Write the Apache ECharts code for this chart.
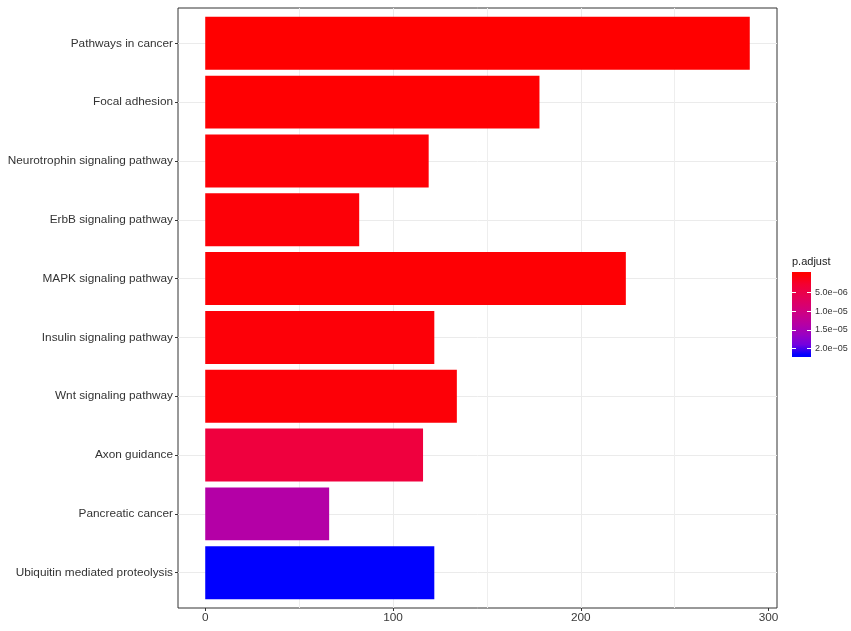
<!DOCTYPE html>
<html>
<head>
<meta charset="utf-8">
<script src="https://cdn.jsdelivr.net/npm/echarts@6/dist/echarts.min.js"></script>
<style>
html,body{margin:0;padding:0;background:#fff;}
#chart{width:851px;height:631px;}
</style>
</head>
<body>
<div id="chart"></div>
<script>
// ---- data ----
const categories = [
  'Pathways in cancer',
  'Focal adhesion',
  'Neurotrophin signaling pathway',
  'ErbB signaling pathway',
  'MAPK signaling pathway',
  'Insulin signaling pathway',
  'Wnt signaling pathway',
  'Axon guidance',
  'Pancreatic cancer',
  'Ubiquitin mediated proteolysis'
];
const counts = [290, 178, 119, 82, 224, 122, 134, 116, 66, 122];
const pAdjust = [3e-8, 1.5e-7, 3.5e-7, 4e-7, 2.5e-7, 4.5e-7, 4e-7, 3.9e-6, 1.37e-5, 2.17e-5];
const xTicks = [0, 100, 200, 300];
const legendTicks = [5e-6, 1e-5, 1.5e-5, 2e-5];
// red -> blue gradient (Lab-like interpolation stops)
const gradientStops = ['#FF0000', '#F40031', '#E8004F', '#DA006C', '#CA0089', '#B500A5', '#9A00C3', '#7300E0', '#0000FF'];

// ---- derived ----
const xMaxData = Math.max(...counts);
const xMin = -0.05 * xMaxData;
const xMax = 1.05 * xMaxData;
const pMin = Math.min(...pAdjust);
const pMax = Math.max(...pAdjust);

const panelTop = 8, panelBottom = 608;
const band = (panelBottom - panelTop) / (categories.length + 0.2);
const fgTop = panelTop + 0.6 * band;
const fgBottomPx = panelBottom - 0.6 * band;

function fmtExp(v) {
  let e = Math.floor(Math.log10(v) + 1e-9);
  let m = v / Math.pow(10, e);
  return m.toFixed(1) + 'e' + (e < 0 ? '\u2212' : '+') + String(Math.abs(e)).padStart(2, '0');
}

const font = 'Liberation Sans, Arial, Helvetica, sans-serif';
const chart = echarts.init(document.getElementById('chart'), null, {renderer: 'canvas'});

const option = {
  animation: false,
  backgroundColor: '#fff',
  textStyle: {fontFamily: font},
  title: {
    text: 'p.adjust', left: 792, top: 256, padding: 0,
    textStyle: {fontSize: 11, fontWeight: 'normal', color: '#1A1A1A', fontFamily: font}
  },
  grid: [
    {left: 178, right: 74, top: panelTop, bottom: 631 - panelBottom, show: true, borderColor: '#333', borderWidth: 1, backgroundColor: 'transparent', containLabel: false},
    {left: 178, right: 74, top: fgTop, bottom: 631 - fgBottomPx, containLabel: false},
    {left: 792, right: 40, top: 274, bottom: 276, containLabel: false}
  ],
  xAxis: [
    {
      gridIndex: 0, type: 'value', min: xMin, max: xMax, splitNumber: 3, position: 'bottom',
      axisLine: {show: false, onZero: false},
      axisTick: {show: true, length: 3, lineStyle: {color: '#333'}, customValues: xTicks},
      axisLabel: {customValues: xTicks, color: '#3A3A3A', fontSize: 11.8, margin: 4, fontFamily: font},
      splitLine: {show: true, showMinLine: false, showMaxLine: false, lineStyle: {color: '#EBEBEB', width: 1}},
      minorTick: {show: false, splitNumber: 2},
      minorSplitLine: {show: true, lineStyle: {color: '#EEEEEE', width: 1}}
    },
    {gridIndex: 1, type: 'value', min: xMin, max: xMax, show: false, axisLine: {onZero: false}},
    {gridIndex: 2, type: 'value', show: false, axisLine: {onZero: false}}
  ],
  yAxis: [
    {gridIndex: 0, type: 'value', show: false, axisLine: {onZero: false}},
    {
      gridIndex: 1, type: 'category', data: categories, inverse: true, boundaryGap: false, position: 'left',
      axisLine: {show: false, onZero: false},
      axisTick: {show: true, length: 3, lineStyle: {color: '#333'}},
      axisLabel: {color: '#333', fontSize: 11.8, margin: 5, fontFamily: font},
      splitLine: {show: true, lineStyle: {color: '#EBEBEB', width: 1}}
    },
    {
      gridIndex: 2, type: 'value', min: pMin, max: pMax, inverse: true, position: 'right', z: 10,
      axisLine: {show: false, onZero: false},
      axisTick: {show: true, inside: true, length: 4, lineStyle: {color: '#FFFFFF', width: 1}, customValues: legendTicks},
      axisLabel: {show: true, customValues: legendTicks, formatter: fmtExp, fontSize: 9, color: '#333', margin: 4, fontFamily: font},
      splitLine: {show: false}
    },
    {
      gridIndex: 2, type: 'value', min: pMin, max: pMax, inverse: true, position: 'left', z: 10,
      axisLine: {show: false, onZero: false},
      axisTick: {show: true, inside: true, length: 4, lineStyle: {color: '#FFFFFF', width: 1}, customValues: legendTicks},
      axisLabel: {show: false},
      splitLine: {show: false}
    }
  ],
  visualMap: {
    show: false, type: 'continuous', seriesIndex: 0, dimension: 2,
    min: pMin, max: pMax,
    inRange: {color: gradientStops}
  },
  graphic: [{
    type: 'rect', z: -1,
    shape: {x: 792, y: 272, width: 19, height: 85},
    style: {
      fill: {
        type: 'linear', x: 0, y: 0, x2: 0, y2: 1,
        colorStops: gradientStops.map((c, i) => ({offset: 0.025 + 0.95 * i / (gradientStops.length - 1), color: c}))
      }
    }
  }],
  series: [{
    type: 'bar', xAxisIndex: 1, yAxisIndex: 1,
    barWidth: '90%', clip: false,
    encode: {x: 0, y: 1},
    data: counts.map((c, i) => [c, categories[i], pAdjust[i]])
  }]
};
chart.setOption(option);
</script>
</body>
</html>
